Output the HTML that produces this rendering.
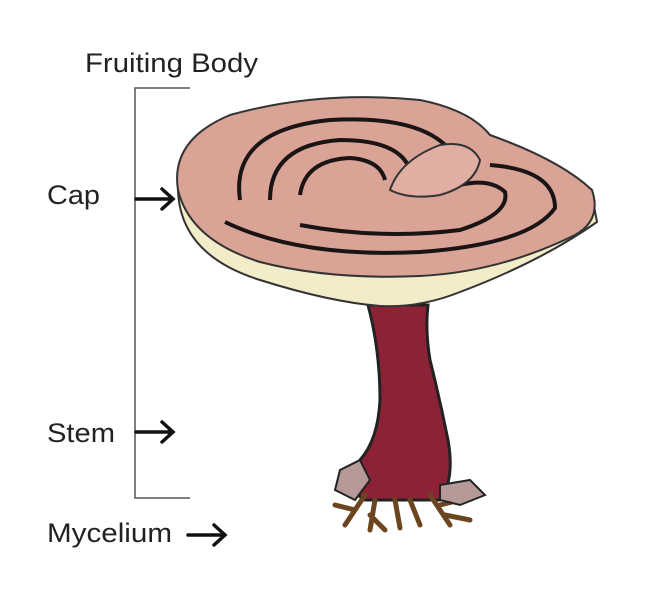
<!DOCTYPE html>
<html><head><meta charset="utf-8"><style>
html,body{margin:0;padding:0;background:#fff;}
svg{display:block}
text{font-family:"Liberation Sans",sans-serif;font-size:27px;fill:#222}
</style></head><body>
<svg width="655" height="608" viewBox="0 0 655 608" xmlns="http://www.w3.org/2000/svg">
<rect width="655" height="608" fill="#fff"/>
<text x="85" y="72" textLength="173" lengthAdjust="spacingAndGlyphs">Fruiting Body</text>
<text x="47" y="204" textLength="53" lengthAdjust="spacingAndGlyphs">Cap</text>
<text x="47" y="442" textLength="68" lengthAdjust="spacingAndGlyphs">Stem</text>
<text x="47" y="542" textLength="125" lengthAdjust="spacingAndGlyphs">Mycelium</text>
<path d="M190 88 H135 V498 H190" fill="none" stroke="#555" stroke-width="1.5"/>
<g stroke="#111" stroke-width="3.5" fill="none" stroke-linecap="round">
<path d="M136 199 H172 M162 189 L173 199 L162 209"/>
<path d="M136 432 H172 M162 422 L173 432 L162 442"/>
<path d="M188 535 H224 M214 525 L225 535 L214 545"/>
</g>
<path d="M368 305 Q380 350 380 400 Q378 440 360 460 Q345 490 365 500 L440 500 Q455 480 448 440 Q440 400 430 360 Q425 330 428 305 Z" fill="#8c2235" stroke="#222" stroke-width="3"/>
<g stroke="#6b4520" stroke-width="5" fill="none" stroke-linecap="round">
<path d="M365 495 L345 525 M355 510 L335 505 M375 500 L370 530 M370 515 L385 530 M395 500 L400 528 M410 500 L420 525 M430 495 L450 525 M440 505 L460 500 M445 515 L470 520"/>
</g>
<path d="M340 470 L360 460 L370 480 L355 500 L335 490 Z" fill="#b59a98" stroke="#222" stroke-width="2"/>
<path d="M440 485 L470 480 L485 495 L460 505 L440 500 Z" fill="#b59a98" stroke="#222" stroke-width="2"/>
<path d="M178 190 Q180 255 260 280 Q330 302 380 306 Q420 308 460 292 Q540 262 597 222 L592 195 Z" fill="#f2ecc8" stroke="#333" stroke-width="2"/>
<path d="M178 190 Q170 140 230 115 Q320 90 420 100 Q470 110 490 135 Q560 160 592 190 Q602 220 575 235 Q500 272 420 276 Q330 280 260 262 Q190 240 178 190 Z" fill="#d9a396" stroke="#333" stroke-width="2"/>
<g fill="none" stroke="#1a1414" stroke-width="4">
<path d="M240 200 Q230 130 330 120 Q420 115 450 150 Q455 175 420 185"/>
<path d="M270 200 Q270 145 340 140 Q400 140 410 170"/>
<path d="M300 195 Q305 160 350 158 Q380 160 385 180"/>
<path d="M225 222 Q300 258 420 252 Q530 244 555 208 Q555 170 490 165"/>
<path d="M300 225 Q380 240 460 230 Q510 214 505 192 Q490 178 460 185"/>
</g>
<path d="M390 190 Q400 160 440 145 Q470 140 480 160 Q475 185 440 195 Q410 200 390 190 Z" fill="#e0aea2" stroke="#333" stroke-width="2"/>
</svg>
</body></html>
